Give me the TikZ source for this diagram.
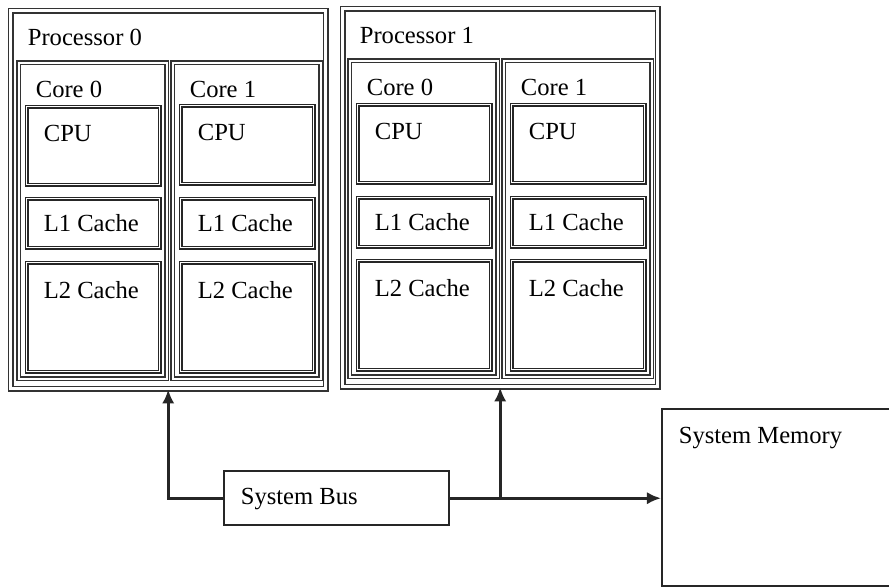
\documentclass[tikz,border=0pt]{standalone}
\usepackage{fontspec}
\setmainfont{Liberation Serif}
\usetikzlibrary{arrows.meta}

\tikzset{
  proc/.style = {draw = black!80, double, double distance = 1.7pt, line width = 0.85pt, anchor = north west, minimum width = 6.3cm, minimum height = 7.56cm, inner sep = 0pt},
  core/.style = {draw = black!80, double, double distance = 1.0pt, line width = 0.8pt, anchor = north west, minimum width = 2.96cm, minimum height = 6.32cm, inner sep = 0pt},
  part/.style = {draw = black!85, double, double distance = 0.5pt, line width = 0.9pt, anchor = north west, minimum width = 2.66cm, inner sep = 0pt},
  plain/.style = {draw = black!85, line width = 1.4pt, anchor = north west, inner sep = 0pt},
  lbl/.style = {anchor = north west, inner sep = 0pt, xshift = 0.35cm, yshift = -0.38cm, font = \fontsize{14}{16}\selectfont},
  arr/.style = {draw = black!85, line width = 1.5pt, -{Latex[length = 8pt, width = 7pt]}}
}

\begin{document}
\begin{tikzpicture}[x = 0.02cm, y = -0.02cm]
\useasboundingbox (0, 0) rectangle (889, 587);
% processor 0
\node[proc, label = {[lbl]north west:Processor 0}] (p0) at (10, 10) {};
\node[core, label = {[lbl]north west:Core 0}] (p0c0) at (18, 62) {};
\node[core, label = {[lbl]north west:Core 1}] (p0c1) at (172, 62) {};
\node[part, minimum height = 1.56cm, label = {[lbl]north west:CPU}] (p0c0cpu) at (26, 106) {};
\node[part, minimum height = 0.98cm, label = {[lbl, yshift = 0.06cm]north west:L1 Cache}] (p0c0l1) at (26, 198) {};
\node[part, minimum height = 2.18cm, label = {[lbl]north west:L2 Cache}] (p0c0l2) at (26, 262) {};
\node[part, minimum height = 1.56cm, label = {[lbl]north west:CPU}] (p0c1cpu) at (180, 105) {};
\node[part, minimum height = 0.98cm, label = {[lbl, yshift = 0.06cm]north west:L1 Cache}] (p0c1l1) at (180, 198) {};
\node[part, minimum height = 2.18cm, label = {[lbl]north west:L2 Cache}] (p0c1l2) at (180, 262) {};
% processor 1
\node[proc, label = {[lbl]north west:Processor 1}] (p1) at (342, 8) {};
\node[core, label = {[lbl]north west:Core 0}] (p1c0) at (349, 60) {};
\node[core, label = {[lbl]north west:Core 1}] (p1c1) at (503, 60) {};
\node[part, minimum height = 1.56cm, label = {[lbl]north west:CPU}] (p1c0cpu) at (357, 104) {};
\node[part, minimum height = 0.98cm, label = {[lbl, yshift = 0.06cm]north west:L1 Cache}] (p1c0l1) at (357, 197) {};
\node[part, minimum height = 2.18cm, label = {[lbl]north west:L2 Cache}] (p1c0l2) at (357, 260) {};
\node[part, minimum height = 1.56cm, label = {[lbl]north west:CPU}] (p1c1cpu) at (511, 104) {};
\node[part, minimum height = 0.98cm, label = {[lbl, yshift = 0.06cm]north west:L1 Cache}] (p1c1l1) at (511, 197) {};
\node[part, minimum height = 2.18cm, label = {[lbl]north west:L2 Cache}] (p1c1l2) at (511, 260) {};
% bus and memory
\node[plain, minimum width = 4.5cm, minimum height = 1.08cm, label = {[lbl, yshift = 0.02cm]north west:System Bus}] (bus) at (223, 470) {};
\node[plain, minimum width = 5cm, minimum height = 3.54cm, label = {[lbl]north west:System Memory}] (mem) at (661, 408) {};
\coordinate (tap) at (bus.east -| p1.south);
\draw[arr] (bus.west) -| (p0.south);
\draw[arr] (tap) -- (p1.south);
\draw[arr] (bus.east) -- (bus.east -| mem.west);
\end{tikzpicture}
\end{document}
